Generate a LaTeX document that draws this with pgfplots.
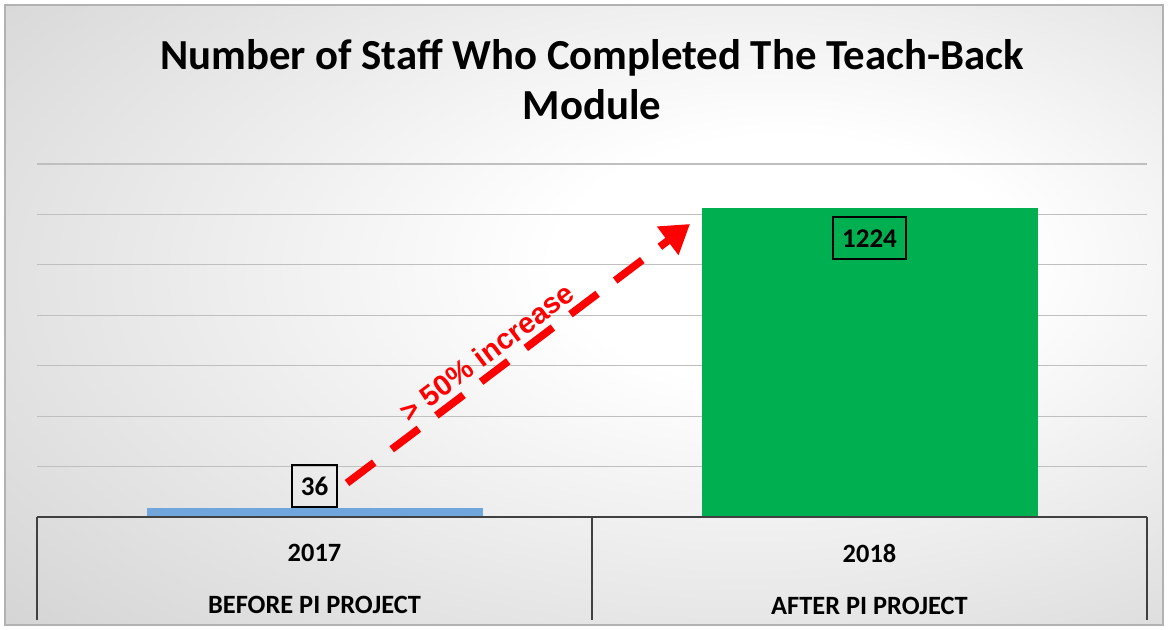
\documentclass[border=0pt]{standalone}
\usepackage{pgfplots}
\pgfplotsset{compat=1.18}
\usepackage{fontspec}
\setmainfont{Carlito}
\newfontfamily\arialfont{Liberation Sans}
\usetikzlibrary{arrows.meta}
\definecolor{barblue}{RGB}{112,166,219}
\definecolor{bargreen}{RGB}{0,176,80}
\definecolor{axisgray}{RGB}{64,64,64}
\definecolor{gridgray}{RGB}{191,191,191}
\pgfdeclareradialshading{bgshade}{\pgfpoint{10bp}{5bp}}{color(0bp)=(white);color(10bp)=(white);color(45bp)=(black!19);color(80bp)=(black!25)}
\begin{document}
\begin{tikzpicture}[x=1pt,y=1pt]
\useasboundingbox (-18.5,-56.5) rectangle (565.5,258.5);
\shade[shading=bgshade] (-16,-54) rectangle (563,256);
\draw[gray!60, line width=0.6pt] (-16,-54) rectangle (563,256);
\begin{axis}[
  at={(0,0)}, anchor=south west,
  width=555pt, height=176.5pt, scale only axis,
  xmin=-0.5, xmax=1.5, ymin=0, ymax=1400,
  ytick={0,200,...,1400}, yticklabels={},
  xtick={0,1},
  xticklabels={{2017\\[11pt]BEFORE PI PROJECT},{2018\\[11pt]AFTER PI PROJECT}},
  major tick length=0pt,
  axis line style={draw=none},
  ymajorgrids, grid style={gridgray, line width=0.6pt},
  xticklabel style={align=center, anchor=north, inner sep=0pt, yshift=-13.5pt, font=\fontsize{13.2}{15}\selectfont\bfseries},
  title={Number of Staff Who Completed The Teach-Back\\Module},
  title style={at={(0.5,1)}, anchor=north, yshift=56.5pt, inner sep=0pt, align=center, font=\fontsize{21.4}{25}\selectfont\bfseries},
  ybar, bar width=168pt, bar shift=0pt,
  clip=false,
  nodes near coords={\pgfmathprintnumber[fixed,precision=0,1000 sep={},assume math mode=true]{\pgfplotspointmeta}},
  every node near coord/.append style={draw=black, line width=0.8pt, inner xsep=4.5pt, inner ysep=0pt, minimum height=21pt, font=\fontsize{13.5}{15}\selectfont\bfseries},
]
\addplot[fill=barblue, draw=none, every node near coord/.append style={anchor=south}] coordinates {(0,36)};
\addplot[fill=bargreen, draw=none, every node near coord/.append style={anchor=north, yshift=-4pt}] coordinates {(1,1224)};
\draw[axisgray, line width=1.3pt] (axis cs:-0.5,0) -- (axis cs:1.5,0);
\draw[axisgray, line width=1.3pt] (axis cs:-0.5,0) -- ([yshift=-51.5pt]axis cs:-0.5,0);
\draw[axisgray, line width=1.3pt] (axis cs:0.5,0) -- ([yshift=-51.5pt]axis cs:0.5,0);
\draw[axisgray, line width=1.3pt] (axis cs:1.5,0) -- ([yshift=-51.5pt]axis cs:1.5,0);
\draw[red, line width=3.8pt, dash pattern=on 17pt off 11pt, -{Triangle[length=14pt,width=17pt]}] (axis cs:0.0586,134.8) -- (axis cs:0.6766,1162);
\node[rotate=37, text=red, font=\arialfont\bfseries\fontsize{14.5}{17}\selectfont] at (axis cs:0.311,654) {> 50\% increase};
\end{axis}
\end{tikzpicture}
\end{document}
